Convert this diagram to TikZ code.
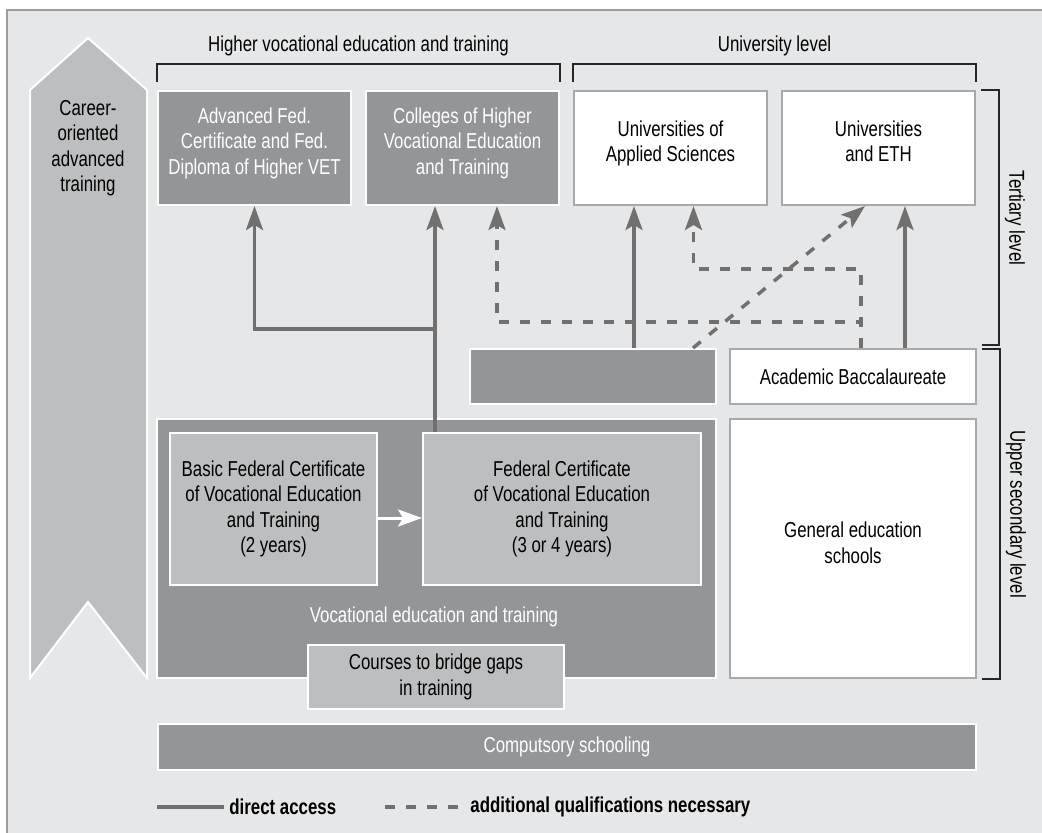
\documentclass[tikz,border=0pt]{standalone}
\usepackage{fontspec}
\setmainfont{Liberation Sans}[FakeStretch=0.78]
\usetikzlibrary{arrows.meta, positioning, calc}
\definecolor{panelgray}{HTML}{E6E7E8}
\definecolor{panelline}{HTML}{9C9C9C}
\definecolor{boxdark}{HTML}{939598}
\definecolor{boxlight}{HTML}{BCBEC0}
\definecolor{boxframe}{HTML}{A7A9AB}
\definecolor{linegray}{HTML}{707070}
\tikzstyle{block} = [draw=white, line width=1pt, fill=boxdark, text=white,
        align=center, inner sep=1pt]
\tikzset{lightblock/.style={block, fill=boxlight, text=black},
    whiteblock/.style={block, draw=boxframe, fill=white, text=black},
    tbox/.style={minimum width=96.5pt, minimum height=57pt, text depth=7pt},
    acc/.style={draw=linegray, line width=1.75pt,
        -{Stealth[length=12pt, width=8.5pt, inset=2.5pt]}},
    addq/.style={acc, dash pattern=on 5pt off 5.5pt},
    bracket/.style={draw=black!85, line width=0.6pt},
    keytext/.style={anchor=west, inner sep=0pt,
        font=\fontsize{10.8}{12}\selectfont\bfseries}
}

\begin{document}
\begin{tikzpicture}[x=0.5pt, y=-0.5pt, node distance=104pt,
    font=\fontsize{10.8}{12.75}\selectfont]
    \useasboundingbox (0,0) rectangle (1042,833);
    % panel
    \fill[panelgray] (7,10) rectangle (1042,833);
    \draw[panelline, line width=1.2pt] (7,833) -- (7,10) -- (1042,10);

    % career-oriented advanced training
    \draw[fill=boxlight, draw=white, line width=1pt] (30,90) -- (88,38) -- (147,90)
        -- (147,678) -- (88,602) -- (30,678) -- cycle;
    \node [align=center] (career) at (88,148) {Career-\\oriented\\advanced\\training};

    % tertiary level
    \node [block, tbox] (advfed) at (254.5,148) {Advanced Fed.\\Certificate and Fed.\\Diploma of Higher VET};
    \node [block, tbox, right of=advfed] (colleges) {Colleges of Higher\\Vocational Education\\and Training};
    \node [whiteblock, tbox, right of=colleges] (uas) {Universities of\\Applied Sciences};
    \node [whiteblock, tbox, right of=uas] (uni) {Universities\\and ETH};

    % upper secondary level
    \node [block, minimum width=123pt, minimum height=27.5pt] (bacgap) at (593,376.5) {};
    \node [whiteblock, minimum width=123pt, minimum height=27.5pt] (acbac) at (853,376.5) {Academic Baccalaureate};
    \node [block, minimum width=279.5pt, minimum height=129.5pt] (vet) at (436.5,548.5) {};
    \node [whiteblock, minimum width=123pt, minimum height=129.5pt, text depth=6pt] (general) at (853,548.5) {General education\\schools};
    \node [lightblock, minimum width=103.5pt, minimum height=76pt] (basic) at (273.5,509) {Basic Federal Certificate\\of Vocational Education\\and Training\\(2 years)};
    \node [lightblock, minimum width=139pt, minimum height=76pt] (fedcert) at (562,509) {Federal Certificate\\of Vocational Education\\and Training\\(3 or 4 years)};
    \node [text=white] (vetlabel) at (434,617) {Vocational education and training};
    \node [lightblock, minimum width=128pt, minimum height=32pt] (courses) at (436,677) {Courses to bridge gaps\\in training};
    \node [block, minimum width=409pt, minimum height=23pt] (compulsory) at (567,747) {Computsory schooling};

    % level brackets
    \draw[bracket] ($(advfed.north west)+(0,-8)$) -- ++(0,-18) -| ($(colleges.north east)+(0,-8)$);
    \node (hvetlabel) at ($(advfed.north west)!0.5!(colleges.north east)+(0,-44)$) {Higher vocational education and training};
    \draw[bracket] ($(uas.north west)+(0,-8)$) -- ++(0,-18) -| ($(uni.north east)+(0,-8)$);
    \node (unilabel) at ($(uas.north west)!0.5!(uni.north east)+(0,-44)$) {University level};
    \draw[bracket] ($(uni.north east)+(5,0)$) -- ++(18,0) |- ($(acbac.north east)+(5,-3)$);
    \draw[bracket] ($(acbac.north east)+(5,1)$) -- ++(18,0) |- ($(general.south east)+(5,0)$);
    \node [rotate=-90] (tertlabel) at (1015,218) {Tertiary level};
    \node [rotate=-90] (upperlabel) at (1016,514) {Upper secondary level};

    % direct access
    \draw[->, draw=white, line width=1.5pt, -{Stealth[length=12pt, width=8.5pt, inset=2.5pt]}]
        ($(basic.east)+(0,9)$) -- ($(fedcert.west)+(0,9)$);
    \coordinate (fork) at (436,329);
    \draw[acc] ($(fedcert.north west)+(13,0)$) coordinate (q) -- (q |- colleges.south);
    \draw[acc] (fork) -| (advfed.south);
    \draw[acc] ($(bacgap.north)+(41,0)$) coordinate (p) -- (p |- uas.south);
    \draw[acc] ($(acbac.north)+(52,0)$) coordinate (r) -- (r |- uni.south);

    % additional qualifications
    \draw[addq] ($(acbac.north)+(8,0)$) -- ++(0,-26) -| ($(colleges.south)+(34.5,0)$);
    \draw[addq] ($(acbac.north)+(8,0)$) -- ++(0,-79) -| ($(uas.south)+(23,0)$);
    \draw[addq] ($(bacgap.north)+(100,0)$) -- ($(uni.south)+(-13.5,0)$);

    % key
    \coordinate (solidkey) at (157,807);
    \node [keytext] (directtxt) at (229,807) {direct access};
    \draw[draw=linegray, line width=1.75pt] (solidkey) -- ($(directtxt.west)+(-5,0)$);
    \coordinate (dashkey) at (385,807);
    \node [keytext] (addtxt) at (470,807) {additional qualifications necessary};
    \draw[draw=linegray, line width=1.75pt, dash pattern=on 5pt off 5.5pt] (dashkey) -- ($(addtxt.west)+(-10,0)$);
\end{tikzpicture}
\end{document}
